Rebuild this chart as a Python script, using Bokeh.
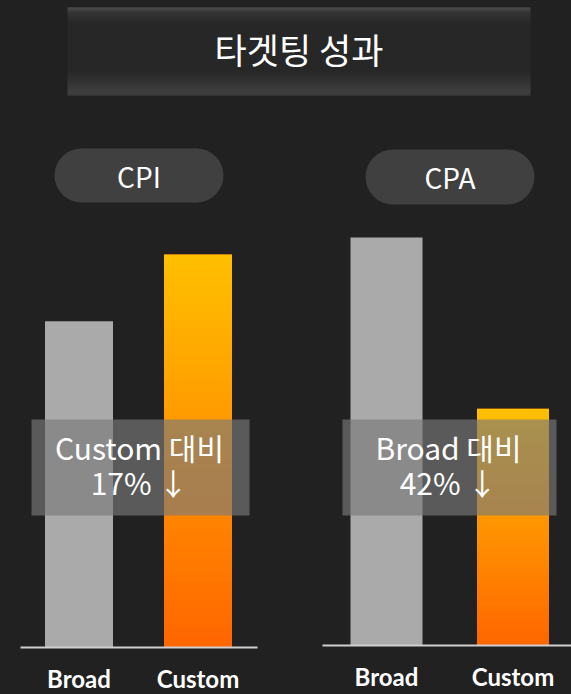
from bokeh.plotting import figure
from bokeh.layouts import column, row
from bokeh.models import Range1d, LinearAxis, FixedTicker
from bokeh.core.properties import value
from bokeh.embed import file_html
from bokeh.resources import INLINE

# ---------------- data ----------------
title_text = "타겟팅 성과"
categories = ["Broad", "Custom"]
highlight = "Custom"
panel_names = ["CPI", "CPA"]
cpi_values = [83, 100]
cpa_values = [100, 58]
cpi_note = ["Custom 대비", "17% ↓"]
cpa_note = ["Broad 대비", "42% ↓"]

# ---------------- style ----------------
BG = "#212121"
GRAY = "#aaaaaa"
TOP_ORANGE = (255, 192, 0)
BOTTOM_ORANGE = (255, 102, 0)
PILL = "#404040"
KR = value("Noto Sans CJK KR")
PAGE_W, PAGE_H = 571, 694


def hexcol(rgb):
    return "#%02x%02x%02x" % tuple(int(round(c)) for c in rgb)


def lerp(c0, c1, t):
    return tuple(a + (b - a) * t for a, b in zip(c0, c1))


def base_fig(w, h, xr, yr):
    p = figure(width=w, height=h, x_range=xr, y_range=yr,
               output_backend="svg", toolbar_location=None,
               x_axis_location=None, y_axis_location=None,
               min_border=0, background_fill_color=BG,
               border_fill_color=BG, outline_line_color=None)
    p.xgrid.visible = False
    p.ygrid.visible = False
    return p


# ---------------- title ----------------
TH = 128
tp = base_fig(PAGE_W, TH, Range1d(0, PAGE_W), Range1d(TH, 0))
stops = [(7, (92, 92, 92)), (12, (60, 60, 60)), (22, (43, 43, 43)),
         (70, (42, 42, 42)), (82, (58, 58, 58)), (92, (74, 74, 74)), (95, (66, 66, 66))]
rows_top, rows_bot, rows_col = [], [], []
for yy in range(7, 95):
    for (a, ca), (b, cb) in zip(stops[:-1], stops[1:]):
        if a <= yy + 0.5 <= b:
            rows_col.append(hexcol(lerp(ca, cb, (yy + 0.5 - a) / (b - a))))
            break
    rows_top.append(yy)
    rows_bot.append(yy + 1)
tp.quad(left=67, right=530, top=rows_top, bottom=rows_bot, fill_color=rows_col,
        line_color=None)
tp.text(x=[298.5], y=[48], text=[title_text], text_font=KR, text_font_size="35px",
        text_color="white", text_align="center", text_baseline="middle")

# ---------------- charts ----------------
CH_OY, CH_H = TH, PAGE_H - TH

specs = [
    dict(ox=0, w=310, centers=(78.5, 197.5), base=647, peak=254, bar_px=68,
         axis=(20, 257), pill=(54, 223, 148, 202), pill_mid=175,
         box=(31, 249, 419, 515), note_mid=(446, 481)),
    dict(ox=310, w=261, centers=(386, 512.5), base=645, peak=237, bar_px=72,
         axis=(322, 580), pill=(365, 534, 149, 204), pill_mid=176.5,
         box=(342, 556, 419, 515), note_mid=(446, 481)),
]


def make_panel(name, values, note, spec):
    ox, w = spec["ox"], spec["w"]
    c0, c1 = spec["centers"]
    ppx = c1 - c0
    ppy = (spec["base"] - spec["peak"]) / max(values)
    x_start = 0 - (c0 - ox) / ppx
    x_end = x_start + w / ppx
    y_end = (spec["base"] - CH_OY) / ppy
    y_start = y_end - CH_H / ppy

    def px2x(px):
        return x_start + (px - ox) / ppx

    def py2y(py):
        return y_end - (py - CH_OY) / ppy

    p = base_fig(w, CH_H, Range1d(x_start, x_end), Range1d(y_start, y_end))
    xs = list(range(len(categories)))
    bw = spec["bar_px"] / ppx

    # bars
    cols = [hexcol(BOTTOM_ORANGE) if c == highlight else GRAY for c in categories]
    p.vbar(x=xs, top=values, width=bw, bottom=0, fill_color=cols, line_color=None)
    # gradient on highlighted bar
    N = 90
    for i, c in enumerate(categories):
        if c != highlight:
            continue
        v = values[i]
        lefts = [i - bw / 2] * N
        rights = [i + bw / 2] * N
        bots = [v * k / N for k in range(N)]
        tops = [v * min(k + 1.6, N) / N for k in range(N)]
        gcol = [hexcol(lerp(BOTTOM_ORANGE, TOP_ORANGE, (k + 0.5) / N)) for k in range(N)]
        p.quad(left=lefts, right=rights, bottom=bots, top=tops, fill_color=gcol,
               line_color=None)

    # pill label
    l, r, t, b = spec["pill"]
    rad = (b - t) / 2
    cy = (t + b) / 2
    p.quad(left=px2x(l + rad), right=px2x(r - rad), top=py2y(t), bottom=py2y(b),
           fill_color=PILL, line_color=None)
    p.scatter(x=[px2x(l + rad), px2x(r - rad)], y=[py2y(cy)] * 2, size=2 * rad,
              marker="circle", fill_color=PILL, line_color=None)
    p.text(x=[px2x((l + r) / 2)], y=[py2y(spec["pill_mid"])], text=[name],
           text_font=KR, text_font_size="28px", text_color="white",
           text_align="center", text_baseline="middle")

    # translucent note box
    bl, br, bt, bb = spec["box"]
    p.quad(left=px2x(bl), right=px2x(br), top=py2y(bt), bottom=py2y(bb),
           fill_color="#7a7a7a", fill_alpha=0.65, line_color=None)
    cx = px2x((bl + br) / 2 - 1)
    p.text(x=[cx, cx], y=[py2y(yb) for yb in spec["note_mid"]], text=note,
           text_font=KR, text_font_size="30px", text_color="white",
           text_align="center", text_baseline="middle")

    # category axis along the baseline
    ax = LinearAxis(ticker=FixedTicker(ticks=xs),
                    major_label_overrides={i: c for i, c in enumerate(categories)},
                    fixed_location=0,
                    bounds=(px2x(spec["axis"][0]), px2x(spec["axis"][1])))
    ax.axis_line_color = "#cfcfcf"
    ax.axis_line_width = 2
    ax.major_tick_line_color = None
    ax.minor_tick_line_color = None
    ax.major_tick_out = 0
    ax.major_tick_in = 0
    ax.major_label_text_font = "Lato"
    ax.major_label_text_font_size = "24px"
    ax.major_label_text_font_style = "bold"
    ax.major_label_text_color = "white"
    ax.major_label_standoff = 16
    p.add_layout(ax, "below")
    return p


left = make_panel(panel_names[0], cpi_values, cpi_note, specs[0])
right = make_panel(panel_names[1], cpa_values, cpa_note, specs[1])

layout = column(tp, row(left, right))
try:
    from bokeh.models import GlobalInlineStyleSheet
    layout.stylesheets = [GlobalInlineStyleSheet(css="html, body { background-color: #212121; }")]
except Exception:
    pass

open("out.html", "w").write(file_html(layout, INLINE))
